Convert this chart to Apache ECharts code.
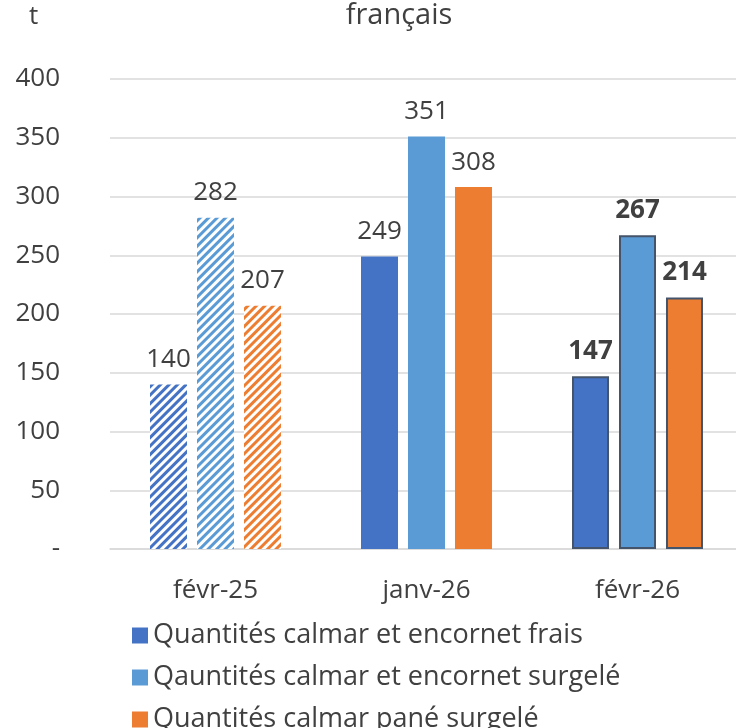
<!DOCTYPE html>
<html><head><meta charset="utf-8">
<script src="https://cdn.jsdelivr.net/npm/echarts@6/dist/echarts.min.js"></script>
<style>html,body{margin:0;padding:0;background:#fff;overflow:hidden}#c{width:743px;height:728px}</style>
</head><body><div id="c"></div>
<script>
const categories = ['févr-25', 'janv-26', 'févr-26'];
const seriesNames = ['Quantités calmar et encornet frais', 'Qauntités calmar et encornet surgelé', 'Quantités calmar pané surgelé'];
const frais = [140, 249, 147];
const surgele = [282, 351, 267];
const pane = [207, 308, 214];
const yTicks = [0, 50, 100, 150, 200, 250, 300, 350, 400];
const colors = ['#4472c4', '#5b9bd5', '#ed7d31'];
const font = '"Open Sans", sans-serif';
const txt = '#404040';

function mkData(vals, color) {
  return vals.map((v, i) => {
    if (i === 0) {
      return { value: v, itemStyle: { color: '#ffffff', decal: { symbol: 'rect', color: color, backgroundColor: '#ffffff', dashArrayX: [1, 0], dashArrayY: [3, 3], rotation: -Math.PI / 4, symbolSize: 1 } } };
    }
    if (i === 2) {
      return { value: v, itemStyle: { color: color, borderColor: '#44546a', borderWidth: 2 }, label: { fontWeight: 'bold' } };
    }
    return { value: v };
  });
}
const allSeries = [frais, surgele, pane].map((vals, k) => ({
  name: seriesNames[k],
  type: 'bar',
  data: mkData(vals, colors[k]),
  itemStyle: { color: colors[k] },
  barWidth: 37,
  barGap: '27%',
  barCategoryGap: '37.6%',
  label: { show: true, position: 'top', distance: 12, fontSize: 26, color: txt, fontFamily: font }
}));

const legends = seriesNames.map((n, k) => ({
  orient: 'vertical', left: 127, top: 617 + k * 42, itemWidth: 16, itemHeight: 16, itemGap: 7,
  icon: 'rect',
  textStyle: { fontSize: 27, color: txt, fontFamily: font },
  data: [{ name: n, itemStyle: { color: colors[k], decal: 'none', borderWidth: 0 } }]
}));

const chart = echarts.init(document.getElementById('c'));
chart.setOption({
  animation: false,
  color: colors,
  textStyle: { fontFamily: font },
  graphic: [
    { type: 'text', x: 399, y: 1, style: { text: 'français', fontSize: 29, fill: txt, fontFamily: font, align: 'center' } },
    { type: 'text', left: 29, top: 4, style: { text: 't', fontSize: 26, fill: txt, fontFamily: font } }
  ],
  grid: { left: 110, right: 0, top: 79, bottom: 179, containLabel: false },
  xAxis: {
    type: 'category', data: categories,
    axisLine: { show: true, lineStyle: { color: '#d9d9d9', width: 1.5 } },
    axisTick: { show: false },
    axisLabel: { fontSize: 26, color: txt, margin: 29, fontFamily: font }
  },
  yAxis: {
    type: 'value', min: 0, max: 400, interval: 50,
    axisLine: { show: false }, axisTick: { show: false },
    splitLine: { lineStyle: { color: '#d9d9d9', width: 1.5 } },
    axisLabel: { fontSize: 26, color: txt, margin: 50, fontFamily: font,
      formatter: v => (v === 0 ? '-' : String(v)) }
  },
  legend: legends,
  series: allSeries
});
</script></body></html>
